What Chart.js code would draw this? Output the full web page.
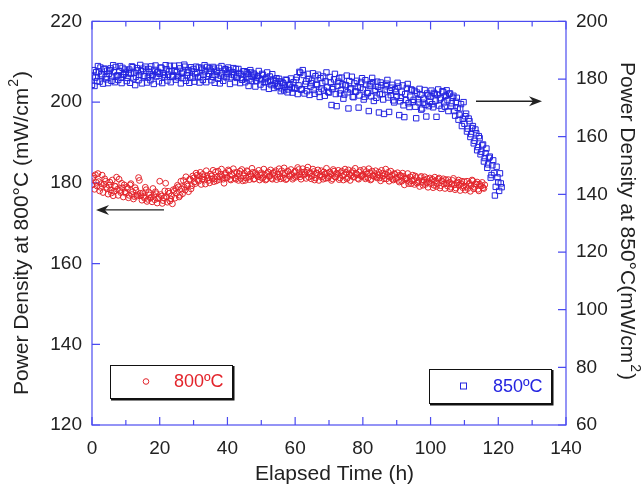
<!DOCTYPE html>
<html>
<head>
<meta charset="utf-8">
<script src="https://cdn.jsdelivr.net/npm/chart.js@4.4.1/dist/chart.umd.min.js"></script>
<style>
  body { margin: 0; background: #fff; }
  canvas { display: block; }
</style>
</head>
<body>
<canvas id="pdChart" width="643" height="488"></canvas>
<script>
// ==== DATA ====
// two interleaved logs: on the half hour and a quarter hour later
const hourStep = 0.5;
const quarterOffset = 0.25;

// power density at 800 C (left axis, mW/cm2)
const pd800 = [
  179.5, 181.6, 182.0, 179.2, 180.3, 178.9, 181.9, 179.6, 180.4, 178.6,
  179.4, 178.2, 180.7, 177.9, 179.1, 178.4, 180.9, 177.6, 178.8, 179.5,
  177.4, 178.6, 176.9, 179.8, 177.8, 176.6, 178.2, 177.1, 180.6, 176.8,
  177.5, 176.2, 178.3, 175.9, 177.0, 176.4, 178.6, 175.8, 177.3, 176.1,
  180.4, 176.7, 175.6, 178.0, 176.5, 177.9, 175.5, 176.8, 178.3, 176.2,
  177.4, 179.0, 176.9, 178.5, 180.6, 178.2, 179.6, 177.8, 180.9, 179.3,
  181.2, 179.8, 181.9, 180.4, 182.6, 180.9, 181.5, 179.7, 181.8, 180.6,
  182.2, 181.0, 180.3, 182.7, 181.4, 180.8, 182.1, 181.6, 179.9, 182.4,
  181.3, 182.9, 180.7, 181.8, 182.5, 180.9, 181.6, 182.3, 181.1, 180.5,
  182.4, 181.2, 182.8, 180.8, 181.7, 182.6, 181.0, 182.1, 181.5, 180.7,
  182.5, 181.3, 182.0, 180.9, 182.7, 181.6, 181.1, 182.4, 181.8, 180.8,
  182.2, 181.5, 183.0, 181.2, 182.4, 181.0, 182.8, 181.6, 182.1, 181.3,
  182.9, 181.8, 183.3, 181.5, 182.6, 181.9, 182.2, 183.1, 181.4, 182.5,
  181.7, 182.8, 181.2, 182.3, 180.6, 182.0, 181.5, 182.7, 181.1, 182.4,
  181.6, 182.2, 181.0, 182.9, 181.4, 182.1, 180.8, 182.5, 181.7, 182.0,
  182.6, 181.3, 182.2, 181.8, 183.0, 181.5, 182.4, 181.1, 182.7, 181.6,
  182.1, 181.4, 182.8, 181.2, 182.5, 180.9, 181.8, 182.3, 181.5, 182.0,
  181.2, 183.1, 181.7, 182.2, 181.0, 182.6, 181.4, 181.9, 180.7, 182.1,
  181.3, 180.6, 181.9, 180.4, 181.6, 180.9, 181.2, 179.8, 181.5, 180.5,
  180.8, 181.7, 179.9, 180.6, 181.3, 180.1, 180.7, 179.6, 181.0, 180.3,
  179.8, 180.9, 179.4, 180.5, 179.9, 181.2, 179.3, 180.4, 179.7, 180.8,
  179.2, 180.1, 178.9, 180.6, 179.5, 178.7, 180.2, 179.4, 179.8, 178.8,
  180.3, 179.1, 178.6, 179.9, 179.3, 180.5, 178.9, 179.6, 178.4, 179.7,
  179.2, 178.8, 179.5
];
const pd800Q = [
  181.2, 178.4, 180.1, 182.3, 178.0, 179.8, 177.6, 181.0, 178.9, 177.2,
  180.2, 177.5, 176.8, 179.2, 181.4, 176.9, 178.1, 179.9, 176.5, 177.8,
  178.9, 176.3, 179.5, 177.1, 176.0, 178.8, 176.7, 181.3, 177.4, 175.7,
  176.6, 178.9, 175.4, 177.6, 176.2, 175.3, 176.9, 177.8, 175.0, 176.4,
  177.1, 174.9, 176.3, 179.9, 175.2, 177.4, 176.0, 174.8, 177.9, 178.6,
  179.4, 176.5, 180.4, 177.3, 178.9, 181.5, 179.2, 180.8, 178.5, 181.7,
  180.2, 182.4, 180.8, 181.7, 179.6, 182.1, 180.7, 183.0, 181.2, 180.0,
  181.7, 183.1, 181.0, 180.5, 182.9, 181.5, 183.4, 180.9, 182.0, 181.3,
  183.2, 180.9, 182.1, 183.5, 181.2, 182.6, 180.6, 182.9, 183.3, 181.7,
  180.6, 183.0, 181.4, 182.2, 183.6, 180.9, 182.5, 181.8, 183.1, 182.0,
  181.1, 183.4, 180.7, 182.3, 181.6, 183.2, 180.9, 182.6, 183.0, 181.4,
  183.5, 181.0, 182.3, 183.7, 180.8, 182.9, 181.8, 183.3, 180.9, 182.6,
  181.4, 183.8, 182.0, 180.9, 183.5, 182.7, 181.1, 183.9, 182.4, 181.0,
  183.4, 180.7, 182.5, 183.2, 181.6, 183.0, 180.9, 182.2, 183.6, 181.2,
  182.7, 180.6, 183.3, 181.5, 182.4, 183.1, 181.2, 182.9, 180.7, 183.4,
  181.0, 183.2, 180.6, 182.5, 181.4, 183.6, 182.0, 180.9, 183.1, 181.7,
  183.3, 181.0, 182.2, 183.5, 180.7, 182.9, 181.6, 183.0, 181.2, 182.6,
  180.5, 182.4, 181.0, 183.4, 181.8, 180.4, 182.9, 180.9, 182.3, 181.0,
  182.5, 180.2, 181.7, 182.4, 179.5, 181.0, 182.3, 180.4, 179.8, 181.9,
  179.6, 181.3, 180.2, 179.1, 181.6, 179.4, 181.5, 180.0, 178.9, 181.2,
  180.6, 178.8, 181.4, 179.1, 180.9, 178.7, 180.5, 181.0, 178.6, 179.9,
  180.8, 178.5, 179.7, 181.1, 178.3, 179.9, 180.7, 178.1, 180.4, 179.2,
  178.2, 180.4, 179.6, 177.9, 180.7, 178.5, 179.8, 180.2, 178.0, 179.3,
  180.1, 178.6
];

// power density at 850 C (right axis, mW/cm2)
const pd850 = [
  178.0, 183.1, 180.5, 179.3, 182.6, 184.0, 181.2, 183.5, 180.7, 182.9,
  181.8, 183.7, 180.9, 182.4, 184.2, 181.3, 182.8, 180.6, 183.9, 181.7,
  182.5, 180.4, 183.3, 181.9, 184.1, 182.2, 180.8, 183.0, 181.4, 182.7,
  183.6, 181.1, 182.9, 180.5, 182.3, 184.4, 181.6, 183.2, 180.9, 182.5,
  181.8, 183.9, 182.1, 180.7, 183.4, 181.5, 184.6, 182.8, 181.2, 183.0,
  182.4, 180.6, 183.7, 181.9, 182.6, 184.3, 181.3, 183.1, 180.4, 182.8,
  183.5, 181.7, 182.2, 184.0, 180.9, 183.3, 181.5, 182.7, 184.2, 181.8,
  182.9, 180.8, 183.6, 181.4, 182.5, 183.9, 181.2, 182.0, 180.7, 183.4,
  181.9, 183.0, 180.6, 182.4, 181.3, 183.5, 180.9, 182.1, 181.6, 179.8,
  182.7, 180.4, 181.8, 179.9, 182.3, 180.8, 181.5, 179.3, 181.1, 180.2,
  179.6, 181.4, 178.8, 180.5, 179.1, 180.9, 177.9, 179.7, 178.4, 180.3,
  177.6, 179.2, 176.8, 178.5, 177.3, 179.6, 176.4, 178.1, 177.0, 178.9,
  176.9, 180.6, 177.8, 182.2, 176.5, 181.4, 178.3, 175.8, 180.1, 177.4,
  179.5, 176.2, 181.0, 177.9, 175.5, 180.3, 178.6, 176.0, 179.2, 177.1,
  175.3, 178.8, 176.5, 179.9, 174.8, 177.6, 180.4, 176.1, 178.2, 174.6,
  177.9, 175.4, 179.3, 176.8, 173.9, 178.5, 175.7, 177.2, 174.3, 179.0,
  176.4, 173.8, 178.1, 175.2, 177.6, 174.0, 178.9, 175.8, 173.5, 177.3,
  174.7, 177.9, 172.9, 176.2, 178.4, 173.6, 175.9, 177.0, 172.6, 176.5,
  174.1, 177.4, 172.3, 175.6, 170.9, 174.8, 176.9, 171.6, 173.9, 176.2,
  172.8, 170.4, 175.3, 171.9, 174.5, 169.8, 173.2, 171.1, 175.0, 170.6,
  173.9, 171.3, 175.2, 172.5, 174.6, 170.8, 173.4, 175.8, 171.9, 174.2,
  172.7, 174.9, 170.5, 173.6, 168.9, 172.1, 170.0, 167.6, 171.3, 166.2,
  164.5, 168.0, 162.8, 165.4, 160.9, 163.7, 158.6, 161.2, 156.4, 159.5,
  154.8, 157.3, 152.6, 155.9, 150.4, 153.1, 146.7, 151.8, 139.6, 149.6,
  144.2, 147.3, 142.5
];
const pd850Q = [
  180.9, 177.6, 182.4, 184.5, 179.1, 181.7, 178.4, 183.6, 179.9, 178.6,
  183.0, 179.4, 184.8, 178.9, 181.0, 179.7, 184.5, 178.6, 181.5, 183.3,
  179.3, 182.0, 178.7, 184.4, 180.2, 177.9, 183.8, 179.6, 184.9, 178.5,
  180.9, 184.3, 178.8, 183.5, 179.6, 181.0, 178.3, 184.7, 182.3, 179.2,
  184.0, 178.6, 181.4, 184.8, 179.5, 182.6, 178.9, 180.7, 184.6, 179.8,
  181.1, 184.7, 178.5, 180.3, 185.0, 179.4, 182.2, 178.7, 184.1, 180.5,
  179.1, 184.3, 180.6, 178.8, 183.9, 179.7, 184.8, 178.9, 181.0, 183.7,
  179.6, 184.2, 178.7, 182.9, 180.1, 178.5, 184.5, 179.4, 183.3, 180.6,
  184.0, 178.3, 181.6, 183.8, 178.9, 180.4, 183.5, 178.6, 179.8, 182.7,
  178.9, 182.4, 177.6, 183.1, 179.3, 181.9, 177.4, 180.5, 182.8, 178.1,
  181.8, 177.2, 180.0, 182.3, 176.6, 179.4, 181.7, 176.9, 179.3, 177.4,
  180.1, 175.8, 178.8, 176.1, 179.8, 175.4, 177.9, 180.2, 175.3, 176.7,
  179.7, 174.8, 182.5, 176.3, 183.1, 175.0, 179.2, 181.8, 174.5, 178.6,
  182.0, 174.9, 178.3, 181.5, 173.8, 176.7, 180.9, 174.2, 182.3, 175.6,
  180.7, 171.0, 177.2, 181.8, 170.6, 179.1, 175.0, 180.5, 173.2, 177.8,
  181.2, 169.8, 176.4, 180.8, 173.7, 175.6, 179.4, 170.1, 177.0, 180.3,
  172.9, 179.6, 175.1, 168.9, 178.2, 180.4, 172.4, 176.3, 179.1, 168.4,
  178.8, 174.9, 167.9, 177.5, 179.7, 168.6, 174.4, 178.0, 171.9, 175.6,
  178.7, 167.5, 173.5, 177.8, 166.8, 172.7, 178.3, 170.3, 176.4, 172.0,
  175.9, 166.4, 173.0, 176.6, 169.4, 171.8, 176.2, 167.0, 174.3, 172.1,
  176.0, 170.2, 174.8, 166.9, 176.4, 172.9, 169.7, 175.5, 170.4, 176.1,
  168.9, 175.0, 171.6, 174.2, 167.3, 173.5, 165.9, 169.8, 163.7, 172.0,
  167.1, 161.8, 166.3, 159.9, 163.0, 157.7, 162.5, 155.3, 160.2, 153.9,
  157.0, 151.4, 154.3, 149.2, 152.7, 145.8, 150.1, 147.4, 142.6, 145.9,
  141.2, 143.8
];

const xTicks = [0, 20, 40, 60, 80, 100, 120, 140];
const leftTicks = [120, 140, 160, 180, 200, 220];
const rightTicks = [60, 80, 100, 120, 140, 160, 180, 200];

const red = '#e3242b';
const blue = '#2424e0';
const axisBlue = '#4b4bf0';
const fontFam = '"Liberation Sans", Arial, sans-serif';

function toPoints(vals, offset) {
  return vals.map((v, i) => ({ x: offset + i * hourStep, y: v }));
}

// text with a raised "2" for cm2, drawn from a start point along a rotated baseline
function drawTitle(ctx, x, y, rot, before, sup, after) {
  ctx.save();
  ctx.translate(x, y);
  ctx.rotate(rot);
  ctx.fillStyle = '#222';
  ctx.textBaseline = 'alphabetic';
  ctx.textAlign = 'left';
  ctx.font = '21px ' + fontFam;
  ctx.fillText(before, 0, 0);
  let w = ctx.measureText(before).width;
  if (sup) {
    ctx.font = '14px ' + fontFam;
    ctx.fillText(sup, w + 1, -10);
    w += ctx.measureText(sup).width + 2;
    ctx.font = '21px ' + fontFam;
    ctx.fillText(after, w, 0);
  }
  ctx.restore();
}

// ==== FRAME, TITLES, ARROWS, LEGEND BOXES ====
const decorPlugin = {
  id: 'decor',
  beforeDatasetsDraw(chart) {
    const { ctx, chartArea: a, scales } = chart;
    ctx.save();
    ctx.strokeStyle = axisBlue;
    ctx.lineWidth = 1.2;
    ctx.strokeRect(a.left, a.top, a.right - a.left, a.bottom - a.top);
    ctx.beginPath();
    for (let v = xTicks[0]; v <= xTicks[xTicks.length - 1]; v += 10) {
      const px = scales.x.getPixelForValue(v);
      const len = v % 20 === 0 ? 8 : 5;
      ctx.moveTo(px, a.bottom); ctx.lineTo(px, a.bottom - len);
      ctx.moveTo(px, a.top); ctx.lineTo(px, a.top + len);
    }
    leftTicks.forEach(v => {
      const py = scales.y.getPixelForValue(v);
      ctx.moveTo(a.left, py); ctx.lineTo(a.left + 8, py);
    });
    rightTicks.forEach(v => {
      const py = scales.y2.getPixelForValue(v);
      ctx.moveTo(a.right, py); ctx.lineTo(a.right - 8, py);
    });
    ctx.stroke();
    ctx.restore();

    // axis titles
    drawTitle(ctx, 28, 395, -Math.PI / 2, 'Power Density at 800°C (mW/cm', '2', ')');
    drawTitle(ctx, 621, 62, Math.PI / 2, 'Power Density at 850°C(mW/cm', '2', ')');
    drawTitle(ctx, 255, 480, 0, 'Elapsed Time (h)');
  },
  afterDraw(chart) {
    const { ctx, chartArea: a, scales } = chart;
    ctx.save();

    function arrow(x0, x1, y) {
      const dir = Math.sign(x1 - x0);
      ctx.strokeStyle = '#222';
      ctx.fillStyle = '#222';
      ctx.lineWidth = 1.3;
      ctx.beginPath();
      ctx.moveTo(x0, y); ctx.lineTo(x1 - dir * 6, y);
      ctx.stroke();
      ctx.beginPath();
      ctx.moveTo(x1, y);
      ctx.lineTo(x1 - dir * 13, y - 5);
      ctx.lineTo(x1 - dir * 9, y);
      ctx.lineTo(x1 - dir * 13, y + 5);
      ctx.closePath();
      ctx.fill();
    }
    // arrows point to the axis each series belongs to
    arrow(a.left + 72, a.left + 4, scales.y.getPixelForValue(173.3));
    arrow(a.right - 90, a.right - 24, scales.y2.getPixelForValue(172.3));

    function legendBox(left, top, w, h, style, label, color) {
      ctx.fillStyle = '#fff';
      ctx.fillRect(left, top, w, h);
      ctx.strokeStyle = '#111';
      ctx.lineWidth = 1;
      ctx.strokeRect(left + 0.5, top + 0.5, w, h);
      ctx.lineWidth = 2;
      ctx.beginPath();
      ctx.moveTo(left + 1, top + h + 1.5); ctx.lineTo(left + w + 1.5, top + h + 1.5);
      ctx.lineTo(left + w + 1.5, top + 1);
      ctx.stroke();
      ctx.strokeStyle = color;
      ctx.lineWidth = 1;
      const cy = top + h / 2;
      if (style === 'circle') {
        ctx.beginPath(); ctx.arc(left + 36, cy, 2.8, 0, Math.PI * 2); ctx.stroke();
      } else {
        ctx.strokeRect(left + 31.5, cy - 3, 6, 6);
      }
      ctx.fillStyle = color;
      ctx.font = '18px ' + fontFam;
      ctx.textBaseline = 'middle';
      ctx.fillText(label, left + 64, cy + 1);
    }
    legendBox(a.left + 18, a.bottom - 60, 122, 33, 'circle', '800ºC', red);
    legendBox(a.right - 137, a.bottom - 56, 122, 34, 'rect', '850ºC', blue);
    ctx.restore();
  }
};

// ==== CHART ====
const ctx = document.getElementById('pdChart').getContext('2d');
const tickFont = { family: fontFam, size: 19 };
const circleStyle = { yAxisID: 'y', pointStyle: 'circle', pointRadius: 2.9, borderColor: red, backgroundColor: 'rgba(0,0,0,0)', borderWidth: 1 };
const squareStyle = { yAxisID: 'y2', pointStyle: 'rect', pointRadius: 3.8, borderColor: blue, backgroundColor: 'rgba(0,0,0,0)', borderWidth: 1 };

new Chart(ctx, {
  type: 'scatter',
  data: {
    datasets: [
      Object.assign({ label: '800ºC', data: toPoints(pd800, 0) }, circleStyle),
      Object.assign({ label: '800ºC (quarter)', data: toPoints(pd800Q, quarterOffset) }, circleStyle),
      Object.assign({ label: '850ºC', data: toPoints(pd850, 0) }, squareStyle),
      Object.assign({ label: '850ºC (quarter)', data: toPoints(pd850Q, quarterOffset) }, squareStyle)
    ]
  },
  options: {
    responsive: false,
    animation: false,
    layout: { padding: { top: 16, left: 0, right: 0, bottom: 0 } },
    plugins: { legend: { display: false }, tooltip: { enabled: false } },
    scales: {
      x: {
        type: 'linear', min: 0, max: 140,
        afterBuildTicks: s => { s.ticks = xTicks.map(v => ({ value: v })); },
        afterFit: s => { s.height = 63; },
        grid: { display: false, drawTicks: false },
        border: { display: false },
        ticks: { font: tickFont, color: '#222', padding: 12, maxRotation: 0 }
      },
      y: {
        position: 'left', min: 120, max: 220,
        afterBuildTicks: s => { s.ticks = leftTicks.map(v => ({ value: v })); },
        afterFit: s => { s.width = 92; },
        grid: { display: false, drawTicks: false },
        border: { display: false },
        ticks: { font: tickFont, color: '#222', padding: 10 }
      },
      y2: {
        position: 'right', min: 60, max: 200,
        afterBuildTicks: s => { s.ticks = rightTicks.map(v => ({ value: v })); },
        afterFit: s => { s.width = 77; },
        grid: { display: false, drawTicks: false },
        border: { display: false },
        ticks: { font: tickFont, color: '#222', padding: 10 }
      }
    }
  },
  plugins: [decorPlugin]
});
</script>
</body>
</html>
